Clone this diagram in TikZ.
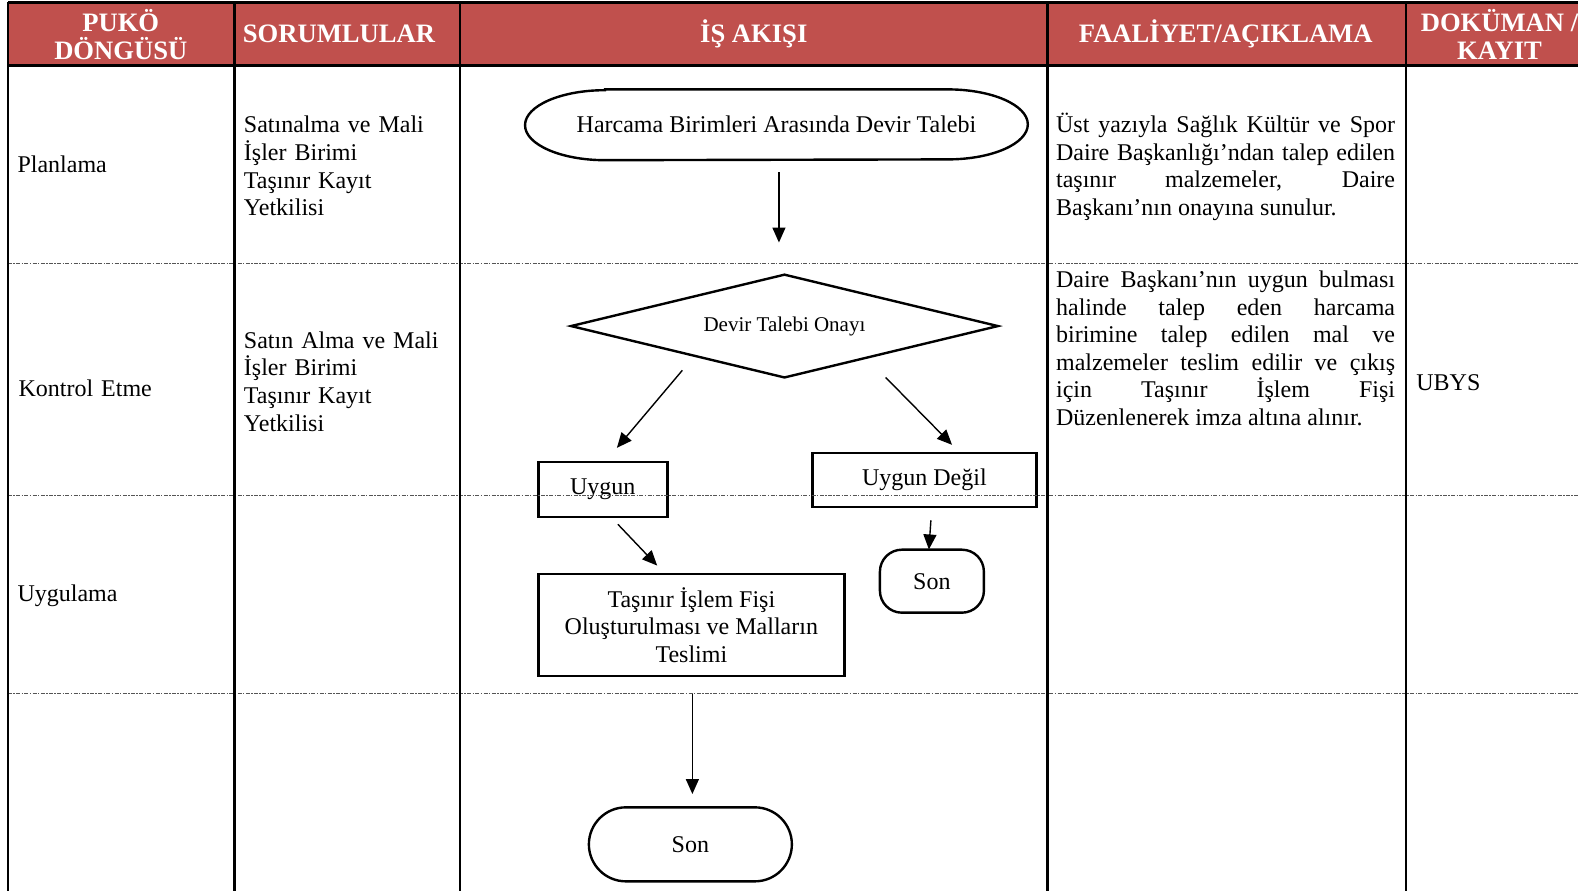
\documentclass[tikz,border=0pt]{standalone}
\usepackage{fontspec}
\setmainfont{Liberation Serif}
\usetikzlibrary{arrows.meta}
\definecolor{hdr}{HTML}{C0504D}
\definecolor{rowline}{HTML}{555555}
\tikzset{
 hdrtext/.style={text=white,font=\fontsize{13.3}{14}\selectfont\bfseries,align=center,inner sep=0},
 body/.style={font=\fontsize{12}{13.8}\selectfont,inner sep=0,text width=105pt,align=left,anchor=base west},
 desc/.style={font=\fontsize{12}{13.75}\selectfont,inner sep=0,text width=169.5pt,align=justify,anchor=base west},
 box/.style={draw,line width=1.2pt,inner sep=0,font=\fontsize{12}{13.75}\selectfont,align=center},
 flow/.style={line width=0.7pt,-{Triangle[length=7.5pt,width=6.5pt]}},
 colline/.style={line width=1.3pt},
 rowsep/.style={line width=0.5pt,draw=rowline,dash pattern=on 2pt off 0.7pt on 0.7pt off 0.7pt},
}
\begin{document}
\begin{tikzpicture}[x=0.5032pt,y=-0.5032pt]
\useasboundingbox (0,0) rectangle (1568,885.3);
\clip (0,0) rectangle (1568,885.3);
% header
\fill[hdr] (8,2) rectangle (1568,65);
\node[hdrtext] (h1) at (120,34) {PUKÖ\\DÖNGÜSÜ};
\node[hdrtext,anchor=west] (h2) at (241,34) {SORUMLULAR};
\node[hdrtext] (h3) at (749,34) {İŞ AKIŞI};
\node[hdrtext] (h4) at (1218,34) {FAALİYET/AÇIKLAMA};
\node[hdrtext] (h5) at (1490,34) {DOKÜMAN /\\KAYIT};
% row labels
\node[body] (p1) at (17,171) {Planlama};
\node[body] (p2) at (18,394) {Kontrol Etme};
\node[body] (p3) at (17,598) {Uygulama};
% responsibles
\node[body] (s1) at (242,132) {Satınalma ve Mali\\İşler Birimi\\Taşınır Kayıt\\Yetkilisi};
\node[body] (s2) at (242,346) {Satın Alma ve Mali\\İşler Birimi\\Taşınır Kayıt\\Yetkilisi};
% descriptions
\node[desc] (d1) at (1049,132) {Üst yazıyla Sağlık Kültür ve Spor\linebreak Daire Başkanlığı’ndan talep edilen\linebreak taşınır malzemeler, Daire\linebreak Başkanı’nın onayına sunulur.};
\node[desc] (d2) at (1049,286) {Daire Başkanı’nın uygun bulması\linebreak halinde talep eden harcama\linebreak birimine talep edilen mal ve\linebreak malzemeler teslim edilir ve çıkış\linebreak için Taşınır İşlem Fişi\linebreak Düzenlenerek imza altına alınır.};
\node[body] (u1) at (1407,388) {UBYS};
% flow chart
\node[inner sep=0,minimum width=251pt,minimum height=35pt,font=\fontsize{12}{13.75}\selectfont] (start) at (771.5,124) {Harcama Birimleri Arasında Devir Talebi};
\draw[line width=1.2pt] ([xshift=40pt]start.north west) -- ([xshift=-40pt]start.north east)
  arc[start angle=90,end angle=-90,x radius=40pt,y radius=17.5pt]
  -- ([xshift=40pt]start.south west)
  arc[start angle=270,end angle=90,x radius=40pt,y radius=17.5pt] -- cycle;
\node[inner sep=0,minimum width=213pt,minimum height=51pt,font=\fontsize{10.5}{12}\selectfont] (dia) at (779.5,324) {Devir Talebi Onayı};
\draw[line width=1.2pt] (dia.west) -- (dia.north) -- (dia.east) -- (dia.south) -- cycle;
\node[box,minimum width=64.5pt,minimum height=27.5pt] (uy) at (599,486.5) {\raisebox{-2pt}{Uygun}};
\node[box,minimum width=112pt,minimum height=27pt] (ud) at (918.5,477) {Uygun Değil};
\node[box,rounded corners=11pt,minimum width=52pt,minimum height=31.5pt] (son1) at (926,577.5) {\raisebox{-2pt}{Son}};
\node[box,minimum width=153pt,minimum height=51pt] (tif) at (687,621) {Taşınır İşlem Fişi\\Oluşturulması ve Malların\\Teslimi};
\node[box,rounded corners=18.5pt,minimum width=101.5pt,minimum height=37pt] (son2) at (686,839) {Son};
% connectors
\coordinate (a1s) at (774,171); \coordinate (a1e) at (774,241);
\coordinate (a2s) at (678,368); \coordinate (a2e) at (613,445);
\coordinate (a3s) at (880,375); \coordinate (a3e) at (946,442);
\coordinate (a4s) at (925,517); \coordinate (a4e) at (923,546);
\coordinate (a5s) at (614,521); \coordinate (a5e) at (653,562);
\coordinate (a6s) at (688,689); \coordinate (a6e) at (688,789);
\draw[flow] (a1s) -- (a1e);
\draw[flow] (a2s) -- (a2e);
\draw[flow] (a3s) -- (a3e);
\draw[flow] (a4s) -- (a4e);
\draw[flow] (a5s) -- (a5e);
\draw[flow] (a6s) -- (a6e);
% row separators
\foreach \yy in {262,492,689} \draw[rowsep] (8,\yy) -- (1568,\yy);
% table lines
\draw[line width=1.5pt] (8,2) -- (1568,2);
\draw[line width=1.5pt] (8,65) -- (1568,65);
\foreach \xx in {8,233,457,1041,1397} \draw[colline] (\xx,2) -- (\xx,885.3);
\end{tikzpicture}
\end{document}
